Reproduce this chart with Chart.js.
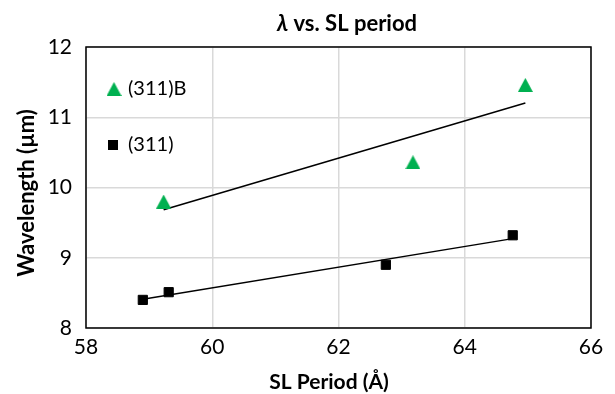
<!DOCTYPE html>
<html>
<head>
<meta charset="utf-8">
<script src="https://cdn.jsdelivr.net/npm/chart.js@4"></script>
<style>
  html, body { margin: 0; padding: 0; background: #fff; }
  #wrap { width: 615px; height: 394px; }
</style>
</head>
<body>
<div id="wrap"><canvas id="myChart" width="615" height="394"></canvas></div>
<script>
// SL period (Å) and wavelength (µm) for both sample sets
const periodB = [59.23, 63.18, 64.96];
const lambdaB = [9.80, 10.36, 11.46];
const period311 = [58.90, 59.31, 62.75, 64.76];
const lambda311 = [8.40, 8.51, 8.90, 9.32];
const xTicks = [58, 60, 62, 64, 66];
const yTicks = [8, 9, 10, 11, 12];

const FONT = 'Lato, "Open Sans", sans-serif';

// least squares line, drawn from first to last x
function trend(xs, ys) {
    const n = xs.length;
    const mx = xs.reduce((a, b) => a + b, 0) / n;
    const my = ys.reduce((a, b) => a + b, 0) / n;
    let sxy = 0, sxx = 0;
    for (let i = 0; i < n; i++) {
        sxy += (xs[i] - mx) * (ys[i] - my);
        sxx += (xs[i] - mx) * (xs[i] - mx);
    }
    const k = sxy / sxx;
    const x0 = Math.min(...xs), x1 = Math.max(...xs);
    return [{x: x0, y: my + k * (x0 - mx)}, {x: x1, y: my + k * (x1 - mx)}];
}

function pts(xs, ys) {
    return xs.map((x, i) => ({x: x, y: ys[i]}));
}

// triangle marker centred in its box
function triangleMarker(w, h, color) {
    const c = document.createElement('canvas');
    c.width = w; c.height = h;
    const g = c.getContext('2d');
    g.fillStyle = color;
    g.beginPath();
    g.moveTo(w / 2, 0);
    g.lineTo(w, h);
    g.lineTo(0, h);
    g.closePath();
    g.fill();
    return c;
}

const greenTri = triangleMarker(15, 14, '#00b050');

// box, title, axis titles and legend
const decor = {
    id: 'decor',
    afterDatasetsDraw(chart) {
        const ctx = chart.ctx;
        const a = chart.chartArea;
        ctx.save();
        ctx.strokeStyle = '#000';
        ctx.lineWidth = 1.5;
        ctx.strokeRect(a.left, a.top, a.right - a.left, a.bottom - a.top);

        ctx.fillStyle = '#000';
        ctx.textBaseline = 'middle';
        // title with italic lambda
        const cx = 347;
        ctx.font = 'italic bold 22px ' + FONT;
        const lam = 'λ';
        const rest = ' vs. SL period';
        const w1 = ctx.measureText(lam).width;
        ctx.font = 'bold 22px ' + FONT;
        const w2 = ctx.measureText(rest).width;
        let tx = cx - (w1 + w2) / 2;
        ctx.textAlign = 'left';
        ctx.font = 'italic bold 22px ' + FONT;
        ctx.fillText(lam, tx, 24);
        ctx.font = 'bold 22px ' + FONT;
        ctx.fillText(rest, tx + w1, 24);

        // axis titles
        ctx.textAlign = 'center';
        ctx.font = 'bold 21px ' + FONT;
        ctx.fillText('SL Period (Å)', 329, 382);
        ctx.font = 'bold 22px ' + FONT;
        ctx.translate(27, 193);
        ctx.rotate(-Math.PI / 2);
        ctx.fillText('Wavelength (µm)', 0, 0);
        ctx.restore();

        // legend inside plot
        ctx.save();
        ctx.font = '20px ' + FONT;
        ctx.textBaseline = 'middle';
        ctx.textAlign = 'left';
        ctx.fillStyle = '#000';
        const items = chart.data.datasets.filter(d => d.inLegend);
        items.forEach((d, i) => {
            const y = 89 + i * 56;
            if (d.pointStyle === greenTri) {
                ctx.drawImage(greenTri, 114 - 7.5, y - 7);
            } else {
                ctx.fillStyle = d.backgroundColor;
                ctx.fillRect(108, y - 5, 10, 10);
                ctx.fillStyle = '#000';
            }
            ctx.fillText(d.label, 128, y);
        });
        ctx.restore();
    }
};

const ctx = document.getElementById('myChart').getContext('2d');
const myChart = new Chart(ctx, {
    type: 'scatter',
    data: {
        datasets: [{
            label: '(311)B',
            inLegend: true,
            data: pts(periodB, lambdaB),
            pointStyle: greenTri,
            backgroundColor: '#00b050',
            order: 1
        }, {
            label: '(311)',
            inLegend: true,
            data: pts(period311, lambda311),
            pointStyle: 'rect',
            pointRadius: 6.5,
            pointHoverRadius: 6.5,
            backgroundColor: '#000',
            borderColor: '#000',
            borderWidth: 1,
            order: 1
        }, {
            label: 'fit (311)B',
            data: trend(periodB, lambdaB),
            showLine: true,
            pointRadius: 0,
            borderColor: '#000',
            borderWidth: 1.5,
            order: 2
        }, {
            label: 'fit (311)',
            data: trend(period311, lambda311),
            showLine: true,
            pointRadius: 0,
            borderColor: '#000',
            borderWidth: 1.5,
            order: 2
        }]
    },
    options: {
        responsive: false,
        animation: false,
        layout: { padding: { left: 0, right: 24, top: 47, bottom: 0 } },
        plugins: {
            legend: { display: false },
            title: { display: false },
            tooltip: { enabled: false }
        },
        scales: {
            x: {
                type: 'linear',
                min: 58,
                max: 66,
                afterBuildTicks: s => { s.ticks = xTicks.map(v => ({value: v})); },
                afterFit: s => { s.height = 66; },
                grid: { color: '#d9d9d9', lineWidth: 1.5, drawTicks: false },
                border: { display: false },
                ticks: { color: '#000', font: { family: FONT, size: 21 }, padding: 7 }
            },
            y: {
                type: 'linear',
                min: 8,
                max: 12,
                afterBuildTicks: s => { s.ticks = yTicks.map(v => ({value: v})); },
                afterFit: s => { s.width = 86; },
                grid: { color: '#d9d9d9', lineWidth: 1.5, drawTicks: false },
                border: { display: false },
                ticks: { color: '#000', font: { family: FONT, size: 21 }, padding: 14 }
            }
        }
    },
    plugins: [decor]
});
</script>
</body>
</html>
